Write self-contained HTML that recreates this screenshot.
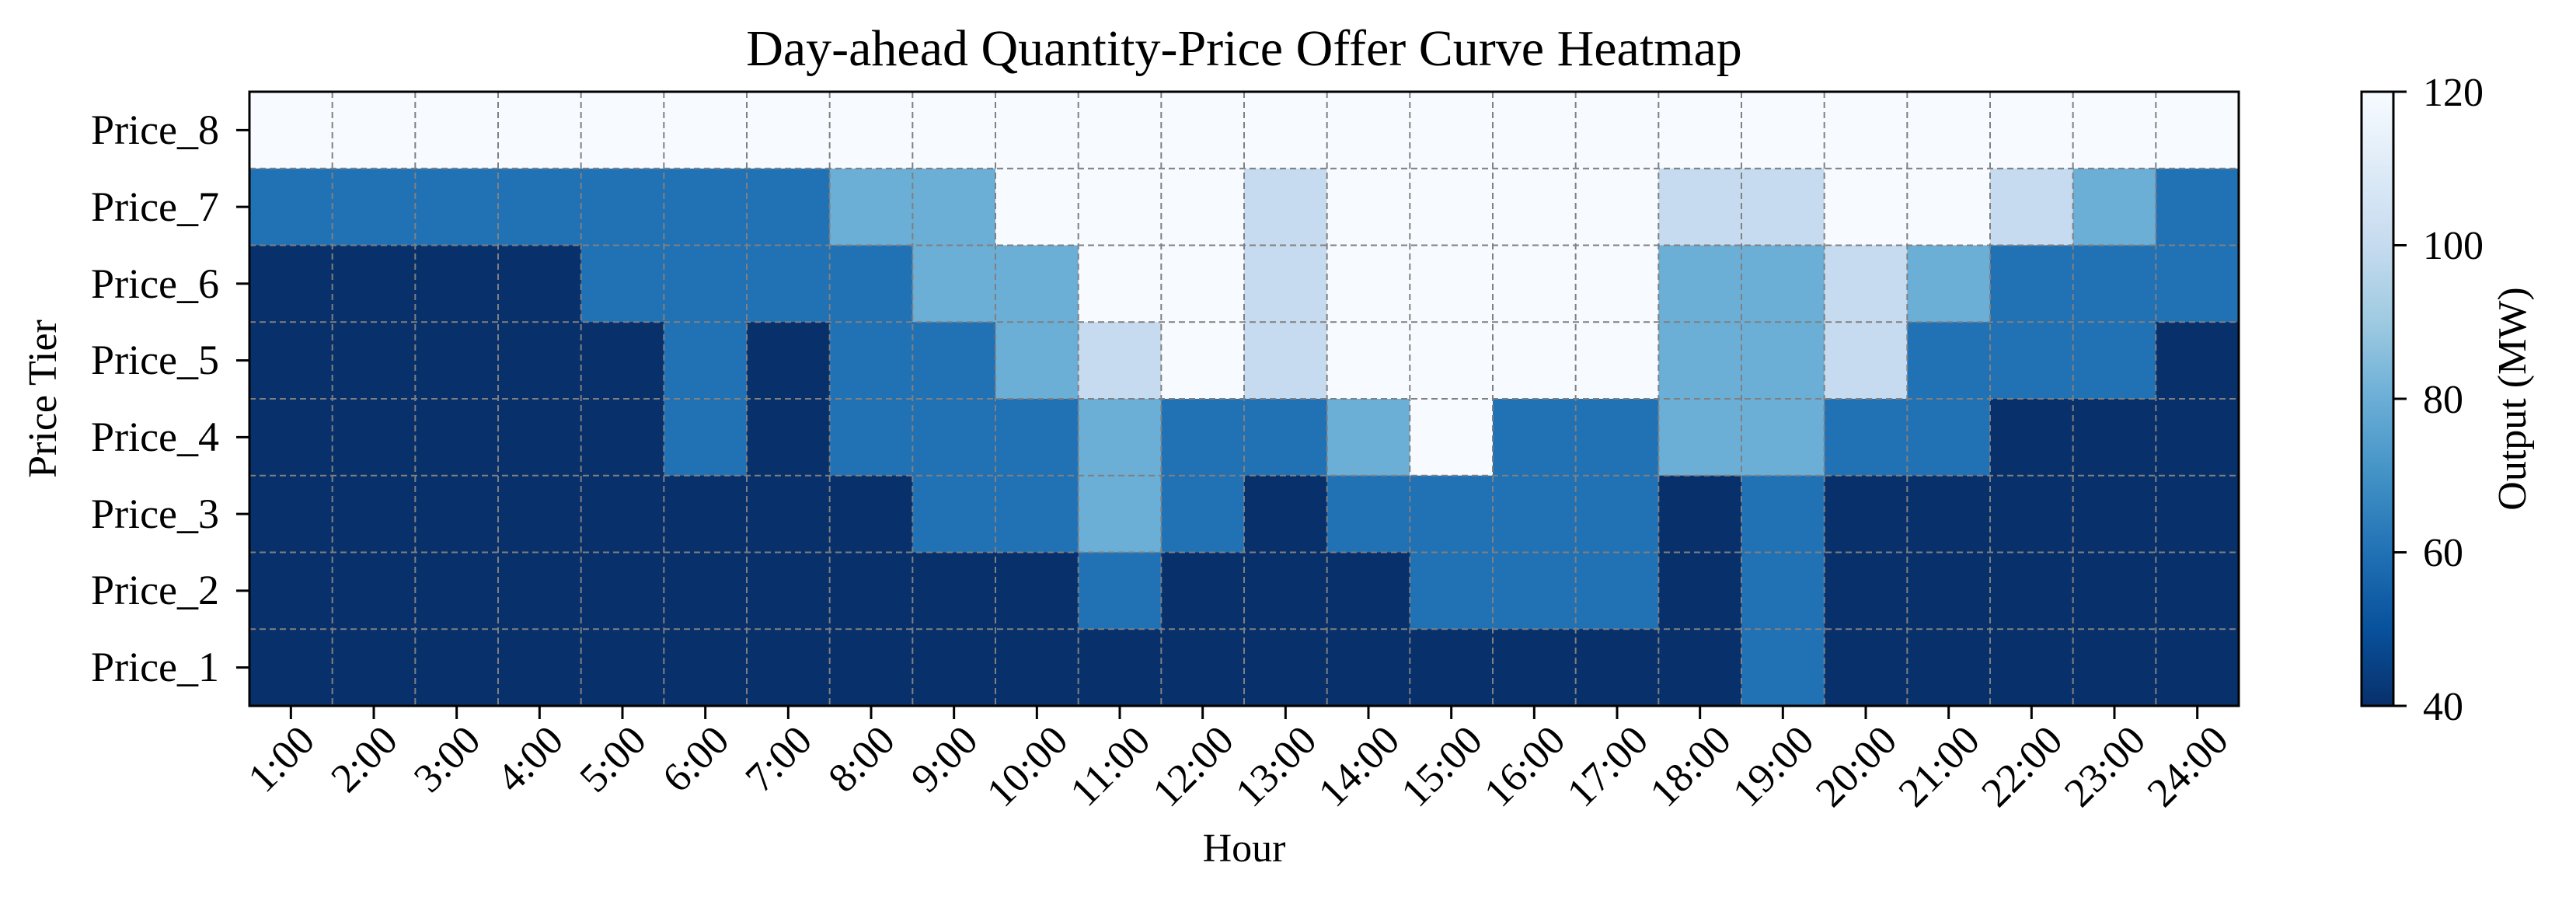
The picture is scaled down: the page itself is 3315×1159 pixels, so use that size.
<!DOCTYPE html>
<html><head><meta charset="utf-8"><style>
html,body{margin:0;padding:0;background:#fff;}
svg{display:block;font-family:"Liberation Serif","DejaVu Serif",serif;}
</style></head><body>
<svg id="s" width="3315" height="1159" viewBox="0 0 3315 1159" xmlns="http://www.w3.org/2000/svg">
<defs>
<linearGradient id="cb" x1="0" y1="1" x2="0" y2="0">
<stop offset="0" stop-color="#08306b"/><stop offset="0.125" stop-color="#08519c"/>
<stop offset="0.25" stop-color="#2171b5"/><stop offset="0.375" stop-color="#4292c6"/>
<stop offset="0.5" stop-color="#6baed6"/><stop offset="0.625" stop-color="#9ecae1"/>
<stop offset="0.75" stop-color="#c6dbef"/><stop offset="0.875" stop-color="#deebf7"/>
<stop offset="1" stop-color="#f7fbff"/>
</linearGradient>
</defs>
<rect width="3315" height="1159" fill="#fff"/>
<g id="cells"></g>
<g id="grid" stroke="#808080" stroke-width="2" stroke-dasharray="8,5" fill="none"></g>
<rect x="321" y="118" width="2560" height="790" fill="none" stroke="#000" stroke-width="3"/>
<g id="ticks" stroke="#000" stroke-width="3"></g>
<text x="1601" y="84" font-size="66" text-anchor="middle">Day-ahead Quantity-Price Offer Curve Heatmap</text>
<g font-size="54" text-anchor="end">
<text x="282" y="185">Price_8</text>
<text x="282" y="284">Price_7</text>
<text x="282" y="383">Price_6</text>
<text x="282" y="481">Price_5</text>
<text x="282" y="580">Price_4</text>
<text x="282" y="679">Price_3</text>
<text x="282" y="777">Price_2</text>
<text x="282" y="876">Price_1</text>
</g>
<g id="xl" font-size="53" text-anchor="middle">
<text>1:00</text><text>2:00</text><text>3:00</text><text>4:00</text><text>5:00</text><text>6:00</text>
<text>7:00</text><text>8:00</text><text>9:00</text><text>10:00</text><text>11:00</text><text>12:00</text>
<text>13:00</text><text>14:00</text><text>15:00</text><text>16:00</text><text>17:00</text><text>18:00</text>
<text>19:00</text><text>20:00</text><text>21:00</text><text>22:00</text><text>23:00</text><text>24:00</text>
</g>
<text x="1601" y="1108" font-size="52" text-anchor="middle">Hour</text>
<text transform="translate(72,513) rotate(-90)" font-size="52" text-anchor="middle">Price Tier</text>
<rect x="3039" y="118" width="41" height="790" fill="url(#cb)" stroke="#000" stroke-width="3"/>
<g stroke="#000" stroke-width="3">
<line x1="3080" x2="3097" y1="908" y2="908"/><line x1="3080" x2="3097" y1="710.5" y2="710.5"/>
<line x1="3080" x2="3097" y1="513" y2="513"/><line x1="3080" x2="3097" y1="315.5" y2="315.5"/>
<line x1="3080" x2="3097" y1="118" y2="118"/>
</g>
<g font-size="52">
<text x="3118" y="926">40</text><text x="3118" y="728">60</text><text x="3118" y="531">80</text>
<text x="3118" y="333">100</text><text x="3118" y="136">120</text>
</g>
<text transform="translate(3250,513) rotate(-90)" font-size="52" text-anchor="middle">Output (MW)</text>
</svg>
<script>
(function(){
var NS="http://www.w3.org/2000/svg";
var rows=["WWWWWWWWWWWWWWWWWWWWWWWW",
"MMMMMMMLLWWWVWWWWVVWWVLM",
"DDDDMMMMLLWWVWWWWLLVLMMM",
"DDDDDMDMMLVWVWWWWLLVMMMD",
"DDDDDMDMMMLMMLWMMLLMMDDD",
"DDDDDDDDMMLMDMMMMDMDDDDD",
"DDDDDDDDDDMDDDMMMDMDDDDD",
"DDDDDDDDDDDDDDDDDDMDDDDD"];
var col={D:"#08306b",M:"#2171b5",L:"#6baed6",V:"#c6dbef",W:"#f7fbff"};
var X0=321,Y0=118,CW=2560/24,RH=790/8;
var g=document.getElementById("cells");
function el(n,a,p){var e=document.createElementNS(NS,n);for(var k in a)e.setAttribute(k,a[k]);p.appendChild(e);return e;}
for(var r=0;r<8;r++)for(var c=0;c<24;c++){
 el("rect",{x:X0+c*CW,y:Y0+r*RH,width:CW+0.6,height:RH+0.6,fill:col[rows[r][c]]},g);}
var gr=document.getElementById("grid");
for(var c=1;c<24;c++)el("line",{x1:X0+c*CW,x2:X0+c*CW,y1:Y0,y2:Y0+790},gr);
for(var r=1;r<8;r++)el("line",{x1:X0,x2:X0+2560,y1:Y0+r*RH,y2:Y0+r*RH},gr);
var t=document.getElementById("ticks");
for(var c=0;c<24;c++){var x=X0+(c+.5)*CW;el("line",{x1:x,x2:x,y1:908,y2:925},t);}
for(var r=0;r<8;r++){var y=Y0+(r+.5)*RH;el("line",{x1:304,x2:321,y1:y,y2:y},t);}
var xl=document.getElementById("xl").children;
for(var i=0;i<xl.length;i++){
 var txt=xl[i].textContent;var w=0;
 for(var j=0;j<txt.length;j++)w+=(txt[j]==":"?0.278:0.5);
 w*=53;var h=(w+35)*0.7071;var cx=X0+(i+.5)*CW,cy=930+h/2;
 xl[i].setAttribute("transform","translate("+cx+","+(cy+13)+") rotate(-45)");
}
})();
</script>
</body></html>
